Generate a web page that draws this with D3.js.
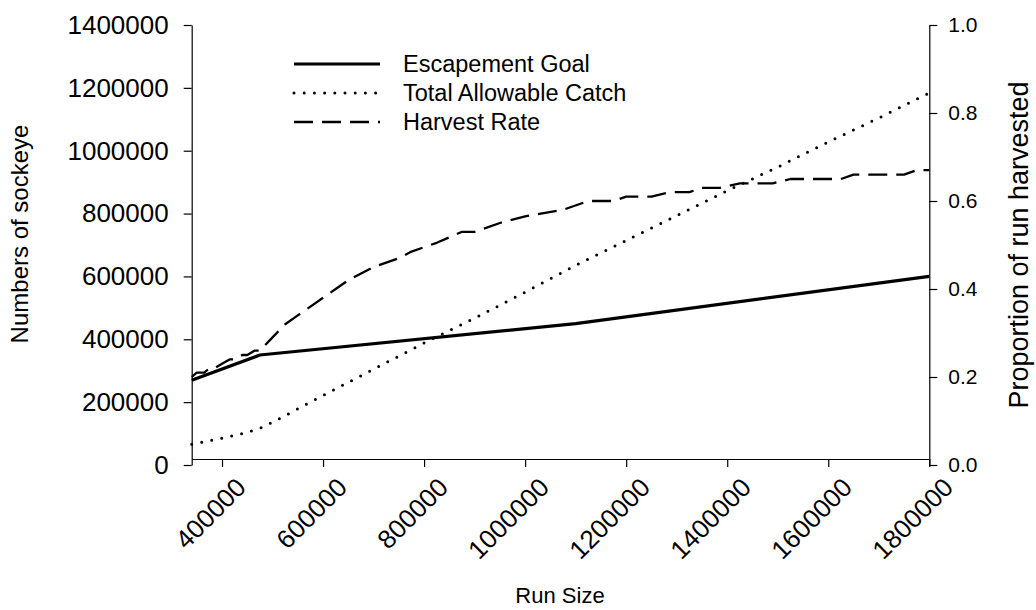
<!DOCTYPE html>
<html>
<head>
<meta charset="utf-8">
<script src="https://cdn.jsdelivr.net/npm/d3@7"></script>
<style>
  html, body { margin: 0; padding: 0; background: #fff; }
  svg { display: block; font-family: Arial, "Liberation Sans", sans-serif; }
</style>
</head>
<body>
<svg id="chart" width="1036" height="610"></svg>
<script>
// ---- data ----
const xTicks = [400000, 600000, 800000, 1000000, 1200000, 1400000, 1600000, 1800000];
const yLeftTicks = [0, 200000, 400000, 600000, 800000, 1000000, 1200000, 1400000];
const yRightTicks = [0.0, 0.2, 0.4, 0.6, 0.8, 1.0];

const escRun = [340000, 475000, 1100000, 1800000];
const escGoal = [270000, 350000, 450000, 600000];

const tacRun = [340000, 400000, 450000, 475000, 500000, 600000, 700000, 800000, 900000,
                1000000, 1100000, 1200000, 1300000, 1400000, 1500000, 1600000, 1700000, 1800000];
const tacVal = [66000, 85000, 104000, 117000, 136000, 221000, 305000, 388000, 467000,
                550000, 635000, 714000, 793000, 873000, 948000, 1028000, 1104000, 1184000];

const hrRun = [340000, 350000, 365000, 375000, 385000, 400000, 415000, 425000, 440000, 450000,
               465000, 475000, 500000, 525000, 550000, 575000, 600000, 625000, 650000, 700000,
               725000, 750000, 775000, 825000, 875000, 900000, 950000, 1000000, 1025000, 1075000,
               1125000, 1175000, 1200000, 1250000, 1285000, 1325000, 1350000, 1385000, 1425000,
               1490000, 1525000, 1625000, 1650000, 1750000, 1775000, 1800000];
const hrVal = [0.20, 0.21, 0.21, 0.22, 0.22, 0.23, 0.24, 0.24, 0.25, 0.25,
               0.26, 0.26, 0.29, 0.32, 0.34, 0.36, 0.38, 0.40, 0.42, 0.45,
               0.46, 0.47, 0.485, 0.505, 0.53, 0.53, 0.55, 0.565, 0.57, 0.58,
               0.60, 0.60, 0.61, 0.61, 0.62, 0.62, 0.63, 0.63, 0.64,
               0.64, 0.65, 0.65, 0.66, 0.66, 0.67, 0.67];

const legendLabels = ["Escapement Goal", "Total Allowable Catch", "Harvest Rate"];

// ---- drawing ----
const svg = d3.select("#chart");
const x = d3.scaleLinear().domain([340000, 1800000]).range([191.7, 929.3]);
const yL = d3.scaleLinear().domain([0, 1400000]).range([465, 25]);
const yR = d3.scaleLinear().domain([0, 1]).range([465, 25]);
const xAxisY = 459;

const styles = [
  { w: 3.2, dash: null, cap: "butt" },
  { w: 3, dash: "0,10.2", cap: "round" },
  { w: 2.3, dash: "19,9", cap: "butt" }
];

// axes
const gx = svg.append("g").attr("transform", `translate(0,${xAxisY})`)
  .call(d3.axisBottom(x).tickValues(xTicks).tickSize(8).tickSizeOuter(0).tickFormat(d3.format("d")));
gx.selectAll("text").remove();
gx.selectAll(".tick").append("text")
  .attr("fill", "#000")
  .attr("font-size", 26)
  .attr("text-anchor", "end")
  .attr("transform", "translate(12,17) rotate(-45)")
  .attr("dy", "0.71em")
  .text(d => d3.format("d")(d));

const gl = svg.append("g").attr("transform", `translate(${x.range()[0]},0)`)
  .call(d3.axisLeft(yL).tickValues(yLeftTicks).tickSize(8).tickSizeOuter(0).tickFormat(d3.format("d")));
gl.selectAll("text").attr("font-size", 26).attr("x", -23).attr("fill", "#000");

const gr = svg.append("g").attr("transform", `translate(${x.range()[1]},0)`)
  .call(d3.axisRight(yR).tickValues(yRightTicks).tickSize(8).tickSizeOuter(0).tickFormat(d3.format(".1f")));
gr.selectAll("text").attr("font-size", 21).attr("x", 19).attr("fill", "#000");

svg.selectAll(".domain, .tick line").attr("stroke", "#000").attr("stroke-width", 1.2);

// lines
const lineL = d3.line().x(d => x(d[0])).y(d => yL(d[1]));
const lineR = d3.line().x(d => x(d[0])).y(d => yR(d[1]));
const seriesPaths = [
  lineL(escRun.map((r, i) => [r, escGoal[i]])),
  lineL(tacRun.map((r, i) => [r, tacVal[i]])),
  lineR(hrRun.map((r, i) => [r, hrVal[i]]))
];
seriesPaths.forEach((p, i) => {
  svg.append("path").attr("d", p).attr("fill", "none").attr("stroke", "#000")
    .attr("stroke-width", styles[i].w)
    .attr("stroke-dasharray", styles[i].dash)
    .attr("stroke-linecap", styles[i].cap)
    .attr("stroke-linejoin", "round");
});

// legend
const lg = svg.append("g");
legendLabels.forEach((lab, i) => {
  const yy = 64 + i * 29;
  lg.append("line").attr("x1", 294).attr("x2", 380).attr("y1", yy).attr("y2", yy)
    .attr("stroke", "#000").attr("stroke-width", styles[i].w)
    .attr("stroke-dasharray", styles[i].dash).attr("stroke-linecap", styles[i].cap);
  lg.append("text").attr("x", 403).attr("y", yy).attr("dy", "0.35em")
    .attr("font-size", 23.5).attr("fill", "#000").text(lab);
});

// axis titles
svg.append("text").attr("x", 560).attr("y", 603).attr("text-anchor", "middle")
  .attr("font-size", 22).text("Run Size");
svg.append("text").attr("transform", "translate(28,234) rotate(-90)").attr("text-anchor", "middle")
  .attr("font-size", 24).text("Numbers of sockeye");
svg.append("text").attr("transform", "translate(1028,245) rotate(-90)").attr("text-anchor", "middle")
  .attr("font-size", 27).text("Proportion of run harvested");
</script>
</body>
</html>
